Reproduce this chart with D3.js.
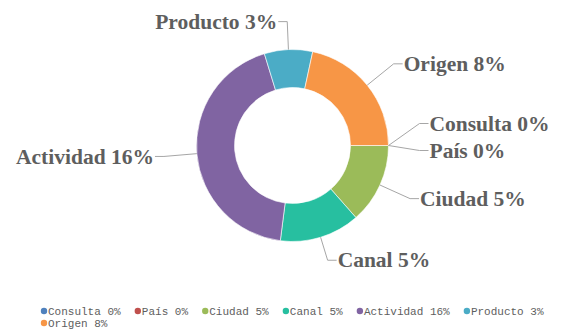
<!DOCTYPE html>
<html>
<head>
<meta charset="utf-8">
<script src="https://cdn.jsdelivr.net/npm/d3@7"></script>
<style>
  html, body { margin: 0; padding: 0; background: #fff; }
  svg { display: block; }
</style>
</head>
<body>
<svg id="chart" width="565" height="333"></svg>
<script>
// ---- data ----
const categories = ["Consulta", "País", "Ciudad", "Canal", "Actividad", "Producto", "Origen"];
const values = [0, 0, 5, 5, 16, 3, 8];
const labels = ["Consulta 0%", "País 0%", "Ciudad 5%", "Canal 5%", "Actividad 16%", "Producto 3%", "Origen 8%"];
const colors = ["#4f81bd", "#c0504d", "#9bbb59", "#27bfa0", "#8064a2", "#4bacc6", "#f79646"];

// ---- layout / style ----
const cx = 292.5, cy = 145.5, outerR = 96, innerR = 58;
const lineLen = [127, 127, 129, 120, 129, 124, 130];   // radial length of leader line
const lineShiftY = [-22, 5, 0, 0, 0, 0, 0];            // collision avoidance offsets
const labelFont = "bold 21.5px 'Liberation Serif', 'Times New Roman', serif";

const svg = d3.select("#chart");
const data = categories.map((c, i) => ({ cat: c, value: values[i], label: labels[i], color: colors[i], i }));

const pie = d3.pie().value(d => d.value).sort(null)
  .startAngle(Math.PI / 2).endAngle(Math.PI / 2 + 2 * Math.PI);
const arcs = pie(data);
const arc = d3.arc().innerRadius(innerR).outerRadius(outerR);

const g = svg.append("g").attr("transform", `translate(${cx},${cy})`);
g.selectAll("path.slice").data(arcs.filter(a => a.data.value > 0)).join("path")
  .attr("class", "slice")
  .attr("d", arc)
  .attr("fill", d => d.data.color)
  .attr("stroke", "#fff")
  .attr("stroke-width", 0.6);

// leader lines + labels
const polar = (a, r) => [r * Math.sin(a), -r * Math.cos(a)];
arcs.forEach(a => {
  const i = a.data.i;
  const mid = (a.startAngle + a.endAngle) / 2;
  const p0 = polar(mid, outerR);
  const p1 = polar(mid, lineLen[i]);
  p1[1] += lineShiftY[i];
  const side = Math.sin(mid) > 0.01 ? 1 : -1;
  const p2 = [p1[0] + side * 9, p1[1]];
  g.append("polyline")
    .attr("points", [p0, p1, p2].map(p => p.join(",")).join(" "))
    .attr("fill", "none")
    .attr("stroke", "#a6a6a6")
    .attr("stroke-width", 1);
  g.append("text")
    .attr("x", p2[0] + side * 1)
    .attr("y", p2[1])
    .attr("dy", "0.33em")
    .attr("text-anchor", side > 0 ? "start" : "end")
    .style("font", labelFont)
    .attr("fill", "#5e5e5e")
    .text(a.data.label);
});

// ---- legend ----
const legend = svg.append("g");
const legFont = "11px 'Liberation Mono', 'DejaVu Sans Mono', monospace";
let lx = 41, ly = 311;
const maxX = 556;
data.forEach(d => {
  const item = legend.append("g");
  const t = item.append("text")
    .attr("x", 7).attr("y", 0).attr("dy", "0.35em")
    .style("font", legFont).attr("fill", "#5e5e5e")
    .text(d.label);
  const w = t.node().getComputedTextLength() + 7;
  if (lx + w > maxX) { lx = 41; ly += 12; }
  item.attr("transform", `translate(${lx},${ly})`);
  item.append("circle").attr("cx", 3).attr("cy", 0).attr("r", 3.2).attr("fill", d.color);
  lx += w + 14.2;
});
</script>
</body>
</html>
